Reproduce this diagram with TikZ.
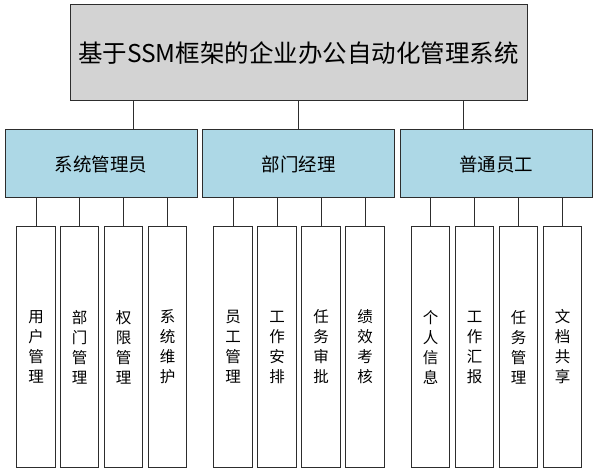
\documentclass[tikz,border=0pt]{standalone}
\usepackage{fontspec}
\setmainfont{Noto Sans CJK SC}
\usetikzlibrary{positioning,calc}

\definecolor{rootgray}{RGB}{211,211,211}
\definecolor{roleblue}{RGB}{173,216,230}
\definecolor{linegray}{RGB}{45,45,45}

\begin{document}
\begin{tikzpicture}[x=1pt, y=-1pt]
	\useasboundingbox (0,0) rectangle (597,473);
	\begin{scope}
		\tikzstyle{every node}=[draw=linegray, line width=1pt, inner sep=0pt, align=center]
		\tikzstyle{root}=[fill=rootgray, minimum width=457pt, minimum height=96pt, font=\fontsize{24.5}{28}\selectfont]
		\tikzstyle{role}=[fill=roleblue, minimum width=192pt, minimum height=68pt, font=\fontsize{18.5}{20}\selectfont]
		\tikzstyle{leaf}=[fill=white, minimum width=38.5pt, minimum height=240pt, font=\fontsize{15.5}{20}\selectfont]
		\tikzstyle{link}=[draw=linegray, line width=1pt]

		\node[root] (sys) at (298.5, 53) {基于SSM框架的企业办公自动化管理系统};

		\node[role] (admin) at (101, 164)   {系统管理员};
		\node[role] (mgr)   at (298.5, 164) {部门经理};
		\node[role] (emp)   at (496, 164)   {普通员工};

		\node[leaf] (user)  at (36, 347)    {用\\户\\管\\理};
		\node[leaf] (dept)  at (79.5, 347)  {部\\门\\管\\理};
		\node[leaf] (perm)  at (123.5, 347) {权\\限\\管\\理};
		\node[leaf] (maint) at (167.5, 347) {系\\统\\维\\护};

		\node[leaf] (staff)  at (233, 347) {员\\工\\管\\理};
		\node[leaf] (plan)   at (277, 347) {工\\作\\安\\排};
		\node[leaf] (review) at (321, 347) {任\\务\\审\\批};
		\node[leaf] (kpi)    at (365, 347) {绩\\效\\考\\核};

		\node[leaf] (info)   at (430.5, 347) {个\\人\\信\\息};
		\node[leaf] (report) at (474.5, 347) {工\\作\\汇\\报};
		\node[leaf] (task)   at (518.5, 347) {任\\务\\管\\理};
		\node[leaf] (docs)   at (562.5, 347) {文\\档\\共\\享};

		\draw [link] ($(sys.south west)!0.14!(sys.south east)$) coordinate (s1) -- (s1 |- admin.north);
		\draw [link] (sys.south) to (mgr.north);
		\draw [link] ($(sys.south west)!0.86!(sys.south east)$) coordinate (s3) -- (s3 |- emp.north);

		\draw [link] (user.north)  to (user.north |- admin.south);
		\draw [link] (dept.north)  to (dept.north |- admin.south);
		\draw [link] (perm.north)  to (perm.north |- admin.south);
		\draw [link] (maint.north) to (maint.north |- admin.south);

		\draw [link] (staff.north)  to (staff.north |- mgr.south);
		\draw [link] (plan.north)   to (plan.north |- mgr.south);
		\draw [link] (review.north) to (review.north |- mgr.south);
		\draw [link] (kpi.north)    to (kpi.north |- mgr.south);

		\draw [link] (info.north)   to (info.north |- emp.south);
		\draw [link] (report.north) to (report.north |- emp.south);
		\draw [link] (task.north)   to (task.north |- emp.south);
		\draw [link] (docs.north)   to (docs.north |- emp.south);
	\end{scope}
\end{tikzpicture}
\end{document}
